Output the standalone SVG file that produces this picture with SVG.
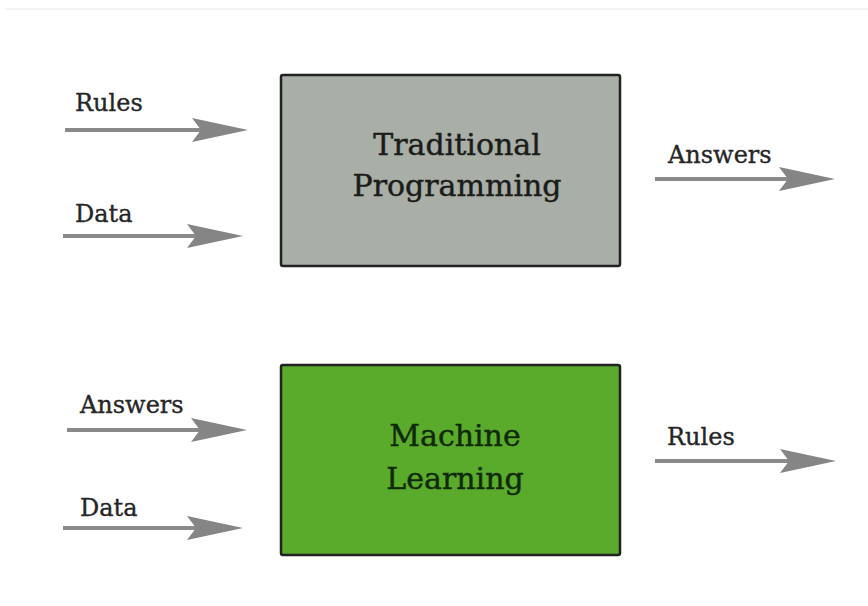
<svg xmlns="http://www.w3.org/2000/svg" width="868" height="606" viewBox="0 0 868 606">
  <style>
    .label { font-family: "DejaVu Serif", "Liberation Serif", serif; font-size: 24px; fill: #262626; stroke: #262626; stroke-width: 0.35; }
    .title { font-family: "DejaVu Serif", "Liberation Serif", serif; font-size: 30px; text-anchor: middle; stroke-width: 0.45; }
    .shaft { stroke: #8a8a8a; stroke-width: 4; fill: none; }
    .head { fill: #858585; }
    .box { stroke: #222; stroke-width: 2.5; }
  </style>
  <defs>
    <!-- swept-back arrowhead, tip at the origin -->
    <path id="ah" d="M0,0 L-56,-12 L-47,0 L-56,12 Z"/>
  </defs>
  <rect width="868" height="606" fill="#ffffff"/>
  <line x1="5" y1="9" x2="868" y2="9" stroke="#f3f3f3" stroke-width="2"/>

  <g id="traditional-programming">
    <rect class="box" x="281" y="75" width="339" height="191" rx="2" fill="#a9aea6"/>
    <text class="title" x="457" y="155" fill="#1a1c1a" stroke="#1a1c1a">Traditional</text>
    <text class="title" x="457" y="196" fill="#1a1c1a" stroke="#1a1c1a">Programming</text>
  </g>

  <g id="machine-learning">
    <rect class="box" x="281" y="365" width="339" height="190" rx="2" fill="#5aab2c"/>
    <text class="title" x="455" y="446" fill="#102a08" stroke="#102a08">Machine</text>
    <text class="title" x="455" y="489" fill="#102a08" stroke="#102a08">Learning</text>
  </g>

  <g id="connectors">
    <!-- inputs to Traditional Programming -->
    <line class="shaft" x1="65" y1="130" x2="205" y2="130"/>
    <use href="#ah" class="head" x="248" y="130"/>
    <line class="shaft" x1="63" y1="236" x2="200" y2="236"/>
    <use href="#ah" class="head" x="243" y="236"/>
    <!-- output of Traditional Programming -->
    <line class="shaft" x1="655" y1="179" x2="795" y2="179"/>
    <use href="#ah" class="head" x="835" y="179"/>
    <!-- inputs to Machine Learning -->
    <line class="shaft" x1="67" y1="430" x2="205" y2="430"/>
    <use href="#ah" class="head" x="247" y="430"/>
    <line class="shaft" x1="63" y1="528" x2="200" y2="528"/>
    <use href="#ah" class="head" x="243" y="528"/>
    <!-- output of Machine Learning -->
    <line class="shaft" x1="655" y1="461" x2="795" y2="461"/>
    <use href="#ah" class="head" x="836" y="461"/>
  </g>

  <g id="labels">
    <text class="label" x="75" y="111">Rules</text>
    <text class="label" x="75" y="222">Data</text>
    <text class="label" x="668" y="163">Answers</text>
    <text class="label" x="80" y="413">Answers</text>
    <text class="label" x="80" y="516">Data</text>
    <text class="label" x="667" y="445">Rules</text>
  </g>
</svg>
